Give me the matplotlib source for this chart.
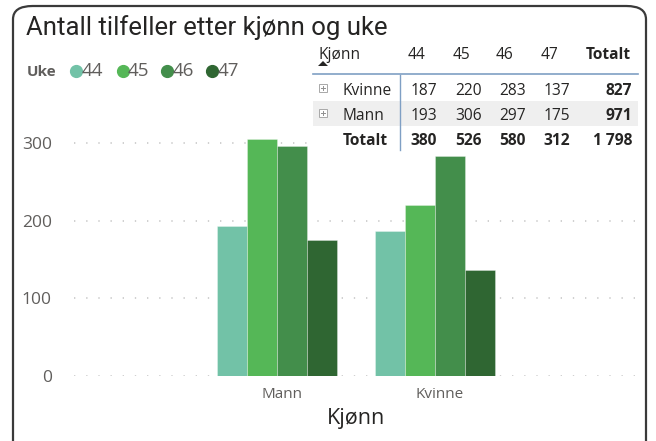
import matplotlib.pyplot as plt
import numpy as np
from matplotlib.patches import FancyBboxPatch, Rectangle, Polygon
from matplotlib.lines import Line2D

weeks = ['44', '45', '46', '47']
genders = ['Mann', 'Kvinne']
mann = [193, 306, 297, 175]
kvinne = [187, 220, 283, 137]
colors = ['#72C2A7', '#55B757', '#438E4B', '#2F6632']

W, H = 656, 441
plt.rcParams['font.family'] = ['Open Sans', 'DejaVu Sans']


def fx(px):
    return px / W


def fy(py):
    return 1 - py / H


fig = plt.figure(figsize=(W / 100, H / 100), dpi=100)

# card border
card = FancyBboxPatch((fx(13), fy(470)), fx(633), (470 - 6) / H,
                      boxstyle='round,pad=0,rounding_size=0.03',
                      transform=fig.transFigure, facecolor='none',
                      edgecolor='#3A3A3A', linewidth=1.6, zorder=5)
fig.patches.append(card)

ax = fig.add_axes([fx(74), fy(376), fx(638) - fx(74), (376 - 120) / H])
ax.set_facecolor('none')
x = np.arange(len(genders))
bw = 0.19
values = np.array([mann, kvinne])
for i, wk in enumerate(weeks):
    ax.bar(x + (i - 1.5) * bw, values[:, i], width=bw, color=colors[i],
           edgecolor=(1, 1, 1, 0.35), linewidth=0.6, zorder=2)

ax.set_xlim(-1.285, 2.285)
ax.set_ylim(0, 330)
ax.set_yticks([0, 100, 200, 300])
for v in [0, 100, 200, 300]:
    ax.axhline(v, color='#C8C8C8', linewidth=1.2, linestyle=(0, (0.8, 6.5)), zorder=1)
for s in ax.spines.values():
    s.set_visible(False)
ax.tick_params(length=0)
ax.set_xticks(x + 0.03)
ax.set_xticklabels(genders, fontsize=11, color='#605E5C')
ax.tick_params(axis='x', pad=8)
ax.tick_params(axis='y', pad=16, labelsize=12.5, labelcolor='#605E5C')
ax.set_xlabel('Kjønn', fontsize=15.5, color='#252423', labelpad=4)

# title
fig.text(fx(26), fy(35), 'Antall tilfeller etter kjønn og uke', fontsize=18.5,
         family=['Roboto', 'DejaVu Sans'], color='#252423', va='baseline')

# legend
fig.text(fx(27), fy(76), 'Uke', fontsize=11, fontweight='bold', color='#605E5C', va='baseline')
leg_x = [76, 122.5, 167, 211.7]
for lx, wk, c in zip(leg_x, weeks, colors):
    fig.lines.append(Line2D([fx(lx)], [fy(70.5)], marker='o', markersize=8.5,
                            color=c, transform=fig.transFigure))
    fig.text(fx(lx + 5.5), fy(76.5), wk, fontsize=13.5, color='#605E5C', va='baseline')

# matrix table
fig.patches.append(Rectangle((fx(312), fy(152)), fx(642) - fx(312), (152 - 40) / H,
                             transform=fig.transFigure, facecolor='white',
                             edgecolor='none', zorder=1))
fig.patches.append(Rectangle((fx(313), fy(126)), fx(638) - fx(313), 25 / H,
                             transform=fig.transFigure, facecolor='#EFEFEF',
                             edgecolor='none', zorder=1))
line_c = '#7F9FC4'
fig.lines.append(Line2D([fx(313), fx(638)], [fy(74), fy(74)], color=line_c,
                        linewidth=1.2, transform=fig.transFigure))
fig.lines.append(Line2D([fx(400), fx(400)], [fy(75), fy(150)], color=line_c,
                        linewidth=1.0, transform=fig.transFigure))
fig.patches.append(Polygon([[fx(318), fy(66)], [fx(328), fy(66)], [fx(323), fy(61)]],
                           closed=True, transform=fig.transFigure,
                           facecolor='#252423', edgecolor='none', zorder=3))

tcol = '#252423'
tfs = 11.2
fig.text(fx(318), fy(59), 'Kjønn', fontsize=tfs, color=tcol, va='baseline', zorder=3)
head_r = [425, 470, 513, 558]
for hx, wk in zip(head_r, weeks):
    fig.text(fx(hx), fy(59), wk, fontsize=tfs, color=tcol, ha='right', va='baseline', zorder=3)
fig.text(fx(631), fy(59), 'Totalt', fontsize=tfs, fontweight='bold', color=tcol,
         ha='right', va='baseline', zorder=3)

val_r = [437, 482, 526, 570]
rows = [('Kvinne', kvinne, 95), ('Mann', mann, 120)]
for name, vals, base in rows:
    bx, by = 319, base - 11
    fig.patches.append(Rectangle((fx(bx), fy(by + 8)), 8 / W, 8 / H,
                                 transform=fig.transFigure, facecolor='white',
                                 edgecolor='#A8A8A8', linewidth=0.7, zorder=3))
    fig.lines.append(Line2D([fx(bx + 2), fx(bx + 6)], [fy(by + 4)] * 2, color='#909090',
                            linewidth=0.7, transform=fig.transFigure, zorder=4))
    fig.lines.append(Line2D([fx(bx + 4)] * 2, [fy(by + 2), fy(by + 6)], color='#909090',
                            linewidth=0.7, transform=fig.transFigure, zorder=4))
    fig.text(fx(343), fy(base), name, fontsize=tfs, color=tcol, va='baseline', zorder=3)
    for vx, v in zip(val_r, vals):
        fig.text(fx(vx), fy(base), str(v), fontsize=tfs, color=tcol, ha='right',
                 va='baseline', zorder=3)
    fig.text(fx(632), fy(base), str(sum(vals)), fontsize=tfs, fontweight='bold',
             color=tcol, ha='right', va='baseline', zorder=3)

col_tot = [k + m for k, m in zip(kvinne, mann)]
fig.text(fx(343), fy(145), 'Totalt', fontsize=tfs, fontweight='bold', color=tcol,
         va='baseline', zorder=3)
for vx, v in zip(val_r, col_tot):
    fig.text(fx(vx), fy(145), str(v), fontsize=tfs, fontweight='bold', color=tcol,
             ha='right', va='baseline', zorder=3)
grand = sum(col_tot)
fig.text(fx(632), fy(145), '{:,}'.format(grand).replace(',', ' '), fontsize=tfs,
         fontweight='bold', color=tcol, ha='right', va='baseline', zorder=3)

fig.savefig('out.png', dpi=100)
